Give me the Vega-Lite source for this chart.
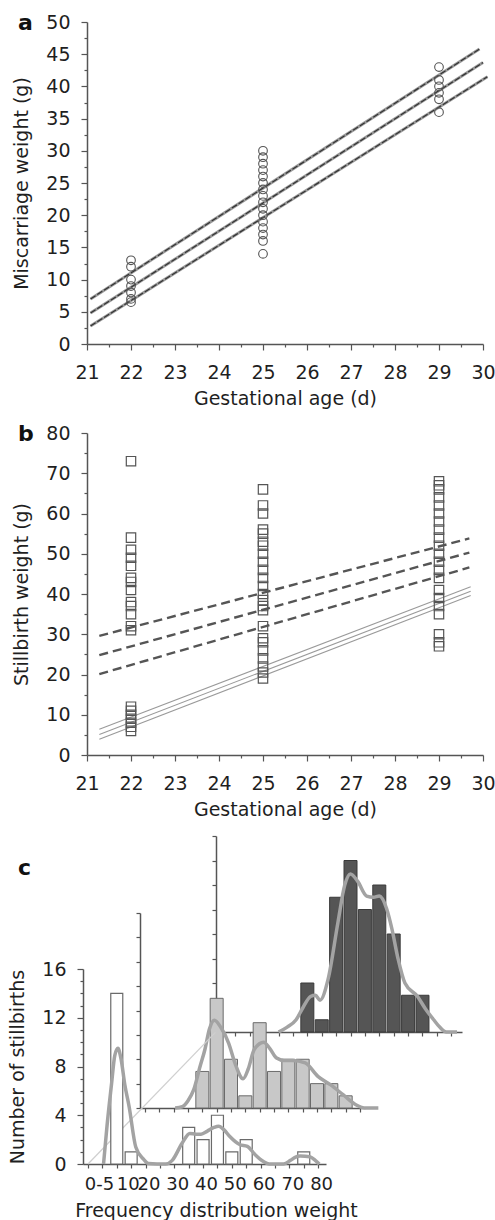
{
  "$schema": "https://vega.github.io/schema/vega-lite/v6.json",
  "padding": {"left": 8, "top": 12, "right": 5, "bottom": 5},
  "bounds": "flush",
  "spacing": 89,
  "config": {
    "font": "DejaVu Sans",
    "view": {"stroke": null},
    "axis": {"grid": false, "domainColor": "#555", "domainWidth": 1.5, "tickColor": "#555", "tickWidth": 1.2, "labelColor": "#1f1f1f", "labelFontSize": 19, "titleFontSize": 19, "titleFontWeight": "normal", "titleColor": "#1f1f1f", "labelPadding": 11, "labelOverlap": false, "labelFlush": false},
    "title": {"fontSize": 22, "fontWeight": "bold", "anchor": "start", "frame": "group", "color": "#111", "offset": 0, "baseline": "alphabetic"}
  },
  "datasets": {
    "a_pts": [
      {"age": 22, "w": 13}, {"age": 22, "w": 12}, {"age": 22, "w": 10}, {"age": 22, "w": 9}, {"age": 22, "w": 8}, {"age": 22, "w": 7}, {"age": 22, "w": 6.5},
      {"age": 25, "w": 30}, {"age": 25, "w": 29}, {"age": 25, "w": 28}, {"age": 25, "w": 27}, {"age": 25, "w": 26}, {"age": 25, "w": 25}, {"age": 25, "w": 24}, {"age": 25, "w": 23}, {"age": 25, "w": 22}, {"age": 25, "w": 21}, {"age": 25, "w": 20}, {"age": 25, "w": 19}, {"age": 25, "w": 18}, {"age": 25, "w": 17}, {"age": 25, "w": 16}, {"age": 25, "w": 14},
      {"age": 29, "w": 43}, {"age": 29, "w": 41}, {"age": 29, "w": 40}, {"age": 29, "w": 39}, {"age": 29, "w": 38}, {"age": 29, "w": 36}
    ],
    "a_lines": [
      {"line": "upper", "age": 21.08, "w": 7.0}, {"line": "upper", "age": 29.92, "w": 45.8},
      {"line": "mid", "age": 21.08, "w": 4.8}, {"line": "mid", "age": 30.0, "w": 43.7},
      {"line": "lower", "age": 21.08, "w": 2.8}, {"line": "lower", "age": 30.1, "w": 41.5}
    ],
    "b_pts": [
      {"age": 22, "w": 73}, {"age": 22, "w": 54}, {"age": 22, "w": 51}, {"age": 22, "w": 49}, {"age": 22, "w": 47}, {"age": 22, "w": 44}, {"age": 22, "w": 43}, {"age": 22, "w": 41}, {"age": 22, "w": 38}, {"age": 22, "w": 37}, {"age": 22, "w": 35}, {"age": 22, "w": 32}, {"age": 22, "w": 31}, {"age": 22, "w": 12}, {"age": 22, "w": 11}, {"age": 22, "w": 10}, {"age": 22, "w": 9}, {"age": 22, "w": 8}, {"age": 22, "w": 7}, {"age": 22, "w": 6},
      {"age": 25, "w": 66}, {"age": 25, "w": 62}, {"age": 25, "w": 60}, {"age": 25, "w": 56}, {"age": 25, "w": 55}, {"age": 25, "w": 53}, {"age": 25, "w": 52}, {"age": 25, "w": 50}, {"age": 25, "w": 48}, {"age": 25, "w": 46}, {"age": 25, "w": 44}, {"age": 25, "w": 42}, {"age": 25, "w": 40}, {"age": 25, "w": 38.5}, {"age": 25, "w": 37}, {"age": 25, "w": 36}, {"age": 25, "w": 32}, {"age": 25, "w": 29}, {"age": 25, "w": 28}, {"age": 25, "w": 26}, {"age": 25, "w": 24}, {"age": 25, "w": 22}, {"age": 25, "w": 20.5}, {"age": 25, "w": 19},
      {"age": 29, "w": 68}, {"age": 29, "w": 67}, {"age": 29, "w": 66}, {"age": 29, "w": 64}, {"age": 29, "w": 62}, {"age": 29, "w": 60}, {"age": 29, "w": 58}, {"age": 29, "w": 56}, {"age": 29, "w": 54}, {"age": 29, "w": 52}, {"age": 29, "w": 50}, {"age": 29, "w": 48}, {"age": 29, "w": 46}, {"age": 29, "w": 44}, {"age": 29, "w": 41}, {"age": 29, "w": 39}, {"age": 29, "w": 37}, {"age": 29, "w": 35}, {"age": 29, "w": 30}, {"age": 29, "w": 28}, {"age": 29, "w": 27}
    ],
    "b_dash": [
      {"line": "upper", "age": 21.28, "w": 29.6}, {"line": "upper", "age": 29.69, "w": 53.8},
      {"line": "mid", "age": 21.28, "w": 24.8}, {"line": "mid", "age": 29.69, "w": 50.3},
      {"line": "lower", "age": 21.28, "w": 20.1}, {"line": "lower", "age": 29.69, "w": 46.6}
    ],
    "b_solid": [
      {"line": "upper", "age": 21.28, "w": 6.4}, {"line": "upper", "age": 29.72, "w": 41.8},
      {"line": "mid", "age": 21.28, "w": 5.1}, {"line": "mid", "age": 29.72, "w": 40.7},
      {"line": "lower", "age": 21.28, "w": 3.9}, {"line": "lower", "age": 29.72, "w": 39.6}
    ],
    "c_front_bars": [
      {"w": 10, "n": 14}, {"w": 15, "n": 1}, {"w": 35, "n": 3}, {"w": 40, "n": 2}, {"w": 45, "n": 4}, {"w": 50, "n": 1}, {"w": 55, "n": 2}, {"w": 75, "n": 1}
    ],
    "c_front_curve": [
      {"w": 5.4, "n": 0}, {"w": 6.6, "n": 3.1}, {"w": 8.2, "n": 6.6}, {"w": 9.3, "n": 8.9}, {"w": 10.4, "n": 9.5}, {"w": 11.5, "n": 8.6}, {"w": 12.8, "n": 6.5}, {"w": 14.3, "n": 4.7}, {"w": 16.6, "n": 1.4}, {"w": 19.3, "n": 0.4}, {"w": 21, "n": 0.05}, {"w": 27, "n": 0}, {"w": 29.3, "n": 0.3}, {"w": 32.7, "n": 1.7}, {"w": 35.4, "n": 2.5}, {"w": 37.5, "n": 2.45}, {"w": 39.3, "n": 2.45}, {"w": 41.5, "n": 2.7}, {"w": 43.8, "n": 3.0}, {"w": 45.4, "n": 3.1}, {"w": 47.3, "n": 2.8}, {"w": 49.3, "n": 2.25}, {"w": 52.7, "n": 1.6}, {"w": 55.4, "n": 1.45}, {"w": 58.2, "n": 0.74}, {"w": 61, "n": 0.2}, {"w": 63, "n": 0}, {"w": 68, "n": 0}, {"w": 70.4, "n": 0.3}, {"w": 72, "n": 0.55}, {"w": 73.8, "n": 0.65}, {"w": 77.1, "n": 0.6}, {"w": 79, "n": 0.3}, {"w": 80.4, "n": 0}
    ],
    "c_diag": [{"w": 0, "n": 0}, {"w": 44.3, "n": 10.8}],
    "c_mid_bars": [
      {"w": 20, "n": 3}, {"w": 25, "n": 9}, {"w": 30, "n": 4}, {"w": 35, "n": 1}, {"w": 40, "n": 7}, {"w": 45, "n": 3}, {"w": 50, "n": 4}, {"w": 55, "n": 4}, {"w": 60, "n": 2}, {"w": 65, "n": 2}, {"w": 70, "n": 1}
    ],
    "c_mid_curve": [
      {"w": 10.5, "n": 0}, {"w": 13, "n": 0.1}, {"w": 15, "n": 0.6}, {"w": 17, "n": 1.5}, {"w": 19.2, "n": 3.4}, {"w": 20.9, "n": 4.8}, {"w": 22.5, "n": 6.5}, {"w": 24.2, "n": 7.2}, {"w": 26.5, "n": 6.6}, {"w": 29.2, "n": 5.3}, {"w": 31.5, "n": 3.6}, {"w": 34.2, "n": 2.4}, {"w": 36, "n": 3.2}, {"w": 38.1, "n": 4.8}, {"w": 41.4, "n": 5.4}, {"w": 43.5, "n": 4.9}, {"w": 45.9, "n": 4.1}, {"w": 48.5, "n": 3.9}, {"w": 51.4, "n": 3.9}, {"w": 55.9, "n": 3.7}, {"w": 60.3, "n": 2.6}, {"w": 64.8, "n": 1.9}, {"w": 69.2, "n": 1.07}, {"w": 73.7, "n": 0.25}, {"w": 77, "n": 0}, {"w": 81.4, "n": 0}
    ],
    "c_back_bars": [
      {"w": 30, "n": 4}, {"w": 35, "n": 1}, {"w": 40, "n": 11}, {"w": 45, "n": 14}, {"w": 50, "n": 10}, {"w": 55, "n": 12}, {"w": 60, "n": 8}, {"w": 65, "n": 3}, {"w": 70, "n": 3}
    ],
    "c_back_curve": [
      {"w": 20, "n": 0}, {"w": 23, "n": 0.4}, {"w": 26.1, "n": 1.0}, {"w": 28.5, "n": 2.0}, {"w": 31.1, "n": 2.9}, {"w": 32.8, "n": 3.0}, {"w": 34.4, "n": 2.6}, {"w": 37.2, "n": 4.3}, {"w": 40.6, "n": 8.9}, {"w": 43, "n": 12.0}, {"w": 45, "n": 12.9}, {"w": 47.5, "n": 12.3}, {"w": 50.6, "n": 11.1}, {"w": 53, "n": 11.0}, {"w": 55, "n": 11.1}, {"w": 57.5, "n": 10.1}, {"w": 59.4, "n": 8.4}, {"w": 61.5, "n": 6.0}, {"w": 63.9, "n": 4.0}, {"w": 68.3, "n": 2.9}, {"w": 71, "n": 1.9}, {"w": 73.9, "n": 1.0}, {"w": 76, "n": 0.4}, {"w": 78.3, "n": 0}, {"w": 82, "n": 0}
    ]
  },
  "vconcat": [
    {
      "width": 396,
      "height": 322,
      "title": {"text": "a", "dx": -69, "dy": 26},
      "encoding": {
        "x": {"field": "age", "type": "quantitative", "scale": {"domain": [21, 30], "nice": false, "zero": false},
          "axis": {"title": "Gestational age (d)", "values": [21, 21.5, 22, 22.5, 23, 23.5, 24, 24.5, 25, 25.5, 26, 26.5, 27, 27.5, 28, 28.5, 29, 29.5, 30], "labelExpr": "datum.value % 1 === 0 ? format(datum.value, 'd') : ''", "tickSize": {"condition": {"test": "datum.value % 1 === 0", "value": 6}, "value": 3}, "labelPadding": 13, "titlePadding": 7}},
        "y": {"field": "w", "type": "quantitative", "scale": {"domain": [0, 50], "nice": false},
          "axis": {"title": "Miscarriage weight (g)", "values": [0, 2.5, 5, 7.5, 10, 12.5, 15, 17.5, 20, 22.5, 25, 27.5, 30, 32.5, 35, 37.5, 40, 42.5, 45, 47.5, 50], "labelExpr": "datum.value % 5 === 0 ? format(datum.value, 'd') : ''", "tickSize": {"condition": {"test": "datum.value % 5 === 0", "value": 6}, "value": 3}, "titlePadding": 14}}
      },
      "layer": [
        {"data": {"name": "a_lines"}, "mark": {"type": "line", "color": "#9a9a9a", "strokeWidth": 3}, "encoding": {"detail": {"field": "line"}}},
        {"data": {"name": "a_lines"}, "mark": {"type": "line", "color": "#333", "strokeWidth": 1.2, "strokeDash": [6, 2]}, "encoding": {"detail": {"field": "line"}}},
        {"data": {"name": "a_pts"}, "mark": {"type": "point", "shape": "circle", "filled": false, "stroke": "#555", "size": 75, "strokeWidth": 1.1, "opacity": 1}}
      ]
    },
    {
      "width": 396,
      "height": 322,
      "title": {"text": "b", "dx": -69, "dy": 26},
      "encoding": {
        "x": {"field": "age", "type": "quantitative", "scale": {"domain": [21, 30], "nice": false, "zero": false},
          "axis": {"title": "Gestational age (d)", "values": [21, 21.5, 22, 22.5, 23, 23.5, 24, 24.5, 25, 25.5, 26, 26.5, 27, 27.5, 28, 28.5, 29, 29.5, 30], "labelExpr": "datum.value % 1 === 0 ? format(datum.value, 'd') : ''", "tickSize": {"condition": {"test": "datum.value % 1 === 0", "value": 6}, "value": 3}, "labelPadding": 13, "titlePadding": 7}},
        "y": {"field": "w", "type": "quantitative", "scale": {"domain": [0, 80], "nice": false},
          "axis": {"title": "Stillbirth weight (g)", "values": [0, 5, 10, 15, 20, 25, 30, 35, 40, 45, 50, 55, 60, 65, 70, 75, 80], "labelExpr": "datum.value % 10 === 0 ? format(datum.value, 'd') : ''", "tickSize": {"condition": {"test": "datum.value % 10 === 0", "value": 6}, "value": 3}, "titlePadding": 14}}
      },
      "layer": [
        {"data": {"name": "b_solid"}, "mark": {"type": "line", "color": "#9a9a9a", "strokeWidth": 1.1}, "encoding": {"detail": {"field": "line"}}},
        {"data": {"name": "b_dash"}, "mark": {"type": "line", "color": "#555", "strokeWidth": 2.4, "strokeDash": [9, 5]}, "encoding": {"detail": {"field": "line"}}},
        {"data": {"name": "b_pts"}, "mark": {"type": "point", "shape": "square", "filled": false, "stroke": "#555", "size": 88, "strokeWidth": 1.2, "opacity": 1}}
      ]
    },
    {
      "width": 396,
      "height": 320,
      "title": {"text": "c", "dx": -69, "dy": 49},
      "resolve": {"scale": {"x": "independent", "y": "independent"}, "axis": {"x": "independent", "y": "independent"}},
      "layer": [
        {
          "encoding": {
            "x": {"field": "w", "type": "quantitative", "scale": {"domain": [0, 82], "range": [129, 375], "nice": false, "zero": false},
              "axis": {"orient": "bottom", "offset": -132, "title": null, "labels": false, "values": [0, 5, 10, 15, 20, 25, 30, 35, 40, 45, 50, 55, 60, 65, 70, 75, 80], "tickSize": 4}},
            "y": {"field": "n", "type": "quantitative", "scale": {"domain": [0, 16], "range": [188, -8], "nice": false},
              "axis": {"orient": "left", "offset": -129, "title": null, "labels": false, "values": [0, 2, 4, 6, 8, 10, 12, 14, 16], "tickSize": 4}}
          },
          "layer": [
            {"data": {"name": "c_back_bars"}, "mark": {"type": "bar", "orient": "vertical", "width": 13, "fill": "#555", "stroke": "#3a3a3a", "strokeWidth": 1}, "encoding": {"y2": {"datum": 0}}},
            {"data": {"name": "c_back_curve"}, "mark": {"type": "line", "color": "#a3a3a3", "strokeWidth": 3.5, "interpolate": "monotone"}}
          ]
        },
        {
          "encoding": {
            "x": {"field": "w", "type": "quantitative", "scale": {"domain": [0, 75], "range": [53, 278], "nice": false, "zero": false},
              "axis": {"orient": "bottom", "offset": -56, "title": null, "labels": false, "values": [0, 5, 10, 15, 20, 25, 30, 35, 40, 45, 50, 55, 60, 65, 70, 75], "tickSize": 4}},
            "y": {"field": "n", "type": "quantitative", "scale": {"domain": [0, 16], "range": [264, 69], "nice": false},
              "axis": {"orient": "left", "offset": -53, "title": null, "labels": false, "values": [0, 2, 4, 6, 8, 10, 12, 14, 16], "tickSize": 4}}
          },
          "layer": [
            {"data": {"name": "c_mid_bars"}, "mark": {"type": "bar", "orient": "vertical", "width": 13, "fill": "#c8c8c8", "stroke": "#6a6a6a", "strokeWidth": 1}, "encoding": {"y2": {"datum": 0}}},
            {"data": {"name": "c_mid_curve"}, "mark": {"type": "line", "color": "#a3a3a3", "strokeWidth": 3.5, "interpolate": "monotone"}}
          ]
        },
        {
          "encoding": {
            "x": {"field": "w", "type": "quantitative", "scale": {"domain": [0, 81], "range": [-4, 239], "nice": false, "zero": false},
              "axis": {"orient": "bottom", "title": "Frequency distribution weight", "titleX": 129, "values": [0, 5, 10, 15, 20, 25, 30, 35, 40, 45, 50, 55, 60, 65, 70, 75, 80], "labelExpr": "datum.value === 0 ? '0-5' : (datum.value % 10 === 0 ? format(datum.value, 'd') : '')", "labelAlign": "center", "labelFontSize": 18, "labelOffset": {"condition": {"test": "datum.value < 15", "value": 11}, "value": 3}, "tickSize": 4, "labelPadding": 7, "titlePadding": 8}},
            "y": {"field": "n", "type": "quantitative", "scale": {"domain": [0, 16], "range": [320, 125], "nice": false},
              "axis": {"orient": "left", "offset": 4, "title": "Number of stillbirths", "values": [0, 1, 2, 3, 4, 5, 6, 7, 8, 9, 10, 11, 12, 13, 14, 15, 16], "labelExpr": "datum.value % 4 === 0 ? format(datum.value, 'd') : ''", "tickSize": {"condition": {"test": "datum.value % 4 === 0", "value": 6}, "value": 3}, "titlePadding": 14}}
          },
          "layer": [
            {"data": {"name": "c_diag"}, "mark": {"type": "line", "color": "#cfcfcf", "strokeWidth": 1.2}},
            {"data": {"name": "c_front_bars"}, "mark": {"type": "bar", "orient": "vertical", "width": 12, "fill": "white", "stroke": "#6a6a6a", "strokeWidth": 1.2}, "encoding": {"y2": {"datum": 0}}},
            {"data": {"name": "c_front_curve"}, "mark": {"type": "line", "color": "#a3a3a3", "strokeWidth": 3.5, "interpolate": "monotone"}}
          ]
        }
      ]
    }
  ]
}
